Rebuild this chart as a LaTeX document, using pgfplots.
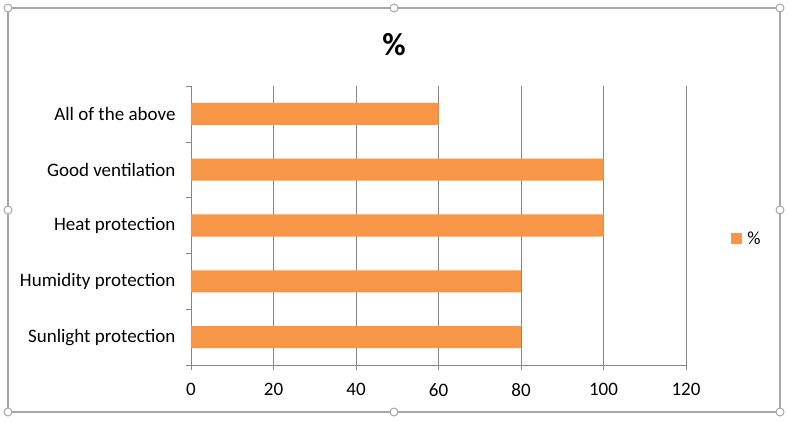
\documentclass[border=0pt]{standalone}
\usepackage{pgfplots}
\pgfplotsset{compat=1.18}
\usepackage{fontspec}
\setmainfont{Carlito}
\definecolor{barorange}{HTML}{F79646}
\definecolor{gridgray}{HTML}{868686}
\definecolor{framegray}{HTML}{A6A6A6}
\begin{document}
\begin{tikzpicture}
\useasboundingbox (0pt,0pt) rectangle (788pt,421pt);
\draw[framegray, line width=1.2pt] (8pt,9pt) rectangle (780pt,413pt);
\foreach \a/\b in {8/413,394/413,780/413,8/211,780/211,8/9,394/9,780/9}
  \filldraw[fill=white, draw=framegray, line width=1pt] (\a pt,\b pt) circle (4pt);
\node[font=\bfseries\fontsize{32}{36}\selectfont] at (394pt,376pt) {\%};
\begin{axis}[
  at={(191pt,56pt)}, anchor=south west,
  scale only axis, width=495pt, height=279pt,
  xbar, bar width=22pt,
  xmin=0, xmax=120, ymin=-0.5, ymax=4.5,
  xtick={0,20,...,120},
  ytick={0,1,2,3,4},
  yticklabels={Sunlight protection,Humidity protection,Heat protection,Good ventilation,All of the above},
  ytick style={draw=none},
  extra y ticks={-0.5,0.5,1.5,2.5,3.5,4.5},
  extra y tick labels={},
  extra y tick style={ytick style={draw=gridgray}, tick align=outside, major tick length=5pt, grid=none},
  xtick style={draw=gridgray},
  tick align=outside, major tick length=5pt,
  xmajorgrids, grid style={gridgray, line width=0.9pt},
  axis x line*=bottom, axis y line*=left,
  axis line style={gridgray, line width=0.9pt, -},
  /pgf/number format/assume math mode=true,
  ticklabel style={font=\fontsize{19}{22}\selectfont, text=black},
  yticklabel style={xshift=-7pt},
  xticklabel style={yshift=-10pt},
  legend style={at={(1.085,0.4516)}, anchor=west, draw=none, fill=none, font=\fontsize{18.5}{21}\selectfont},
  legend image code/.code={\fill[barorange] (0pt,-5pt) rectangle (11pt,6pt); \path (0pt,0pt) -- (14pt,0pt);},
  legend cell align=left,
]
\addplot[fill=barorange, draw=none] coordinates {(80,0) (80,1) (100,2) (100,3) (60,4)};
\addlegendentry{\%}
\end{axis}
\end{tikzpicture}
\end{document}
